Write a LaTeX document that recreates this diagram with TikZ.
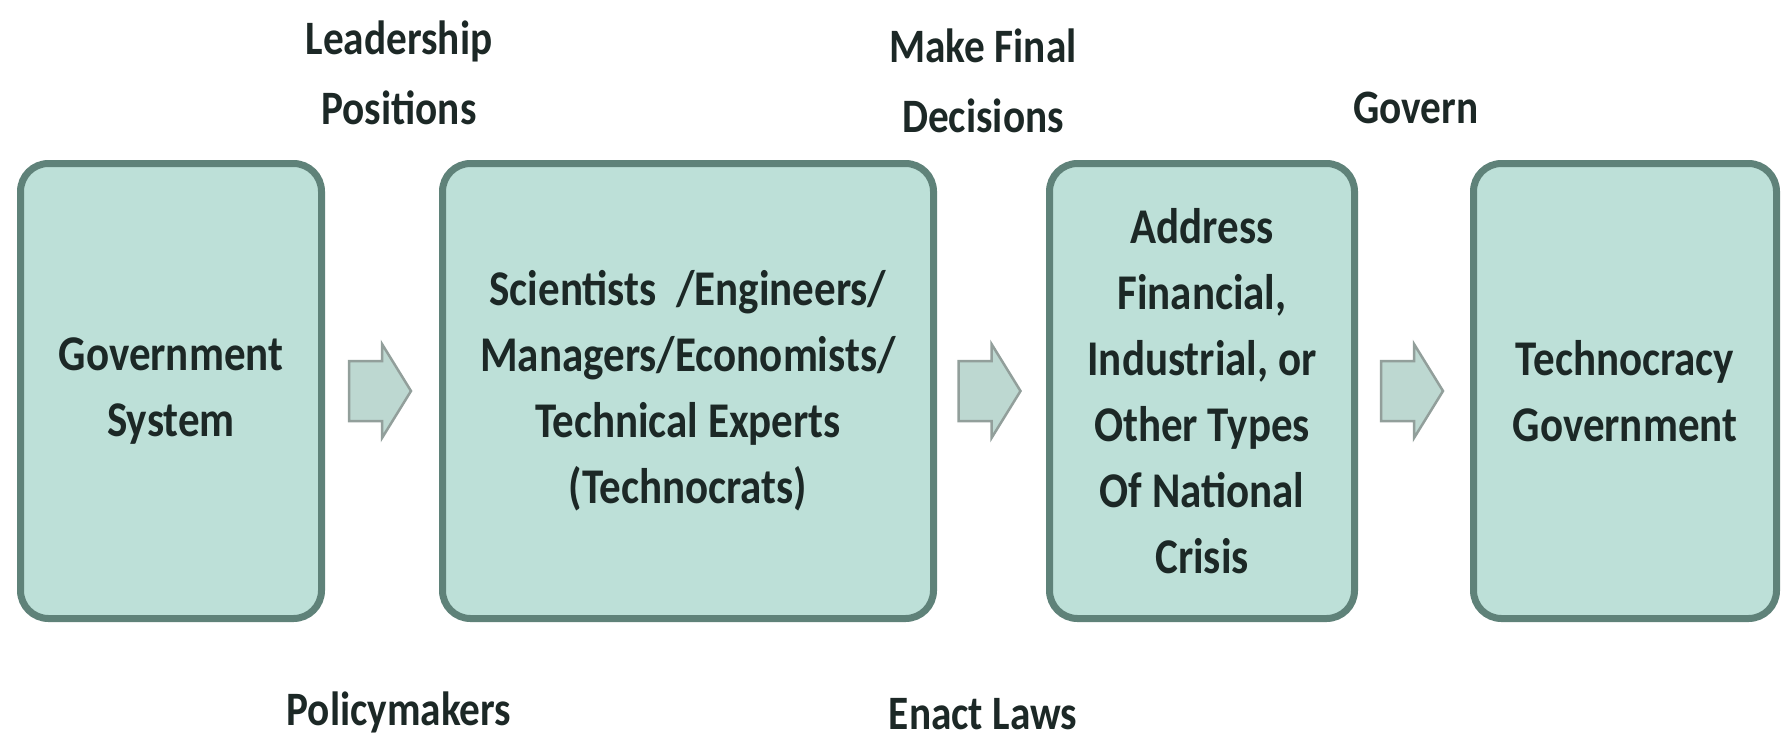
\documentclass[tikz,border=0pt]{standalone}
\usepackage{fontspec}
\usetikzlibrary{calc}
\newfontfamily\calfont[FakeStretch=0.86]{Carlito}
\definecolor{boxfill}{HTML}{BDE0D8}
\definecolor{boxline}{HTML}{5F8279}
\definecolor{arrfill}{HTML}{BDD8D1}
\definecolor{arrline}{HTML}{929F9B}
\definecolor{txt}{HTML}{1C2826}
\tikzset{
  stagebox/.style={draw=boxline, fill=boxfill, line width=7pt, rounded corners=28pt,
    minimum height=455pt, align=center, text=txt, inner sep=0pt,
    font=\calfont\bfseries\fontsize{50}{66}\selectfont},
  blockarrow/.style={draw=arrline, fill=arrfill, line width=2.5pt, line join=miter},
  sidelabel/.style={align=center, text=txt, inner sep=0pt,
    font=\calfont\bfseries\fontsize{48}{70}\selectfont}
}
\newcommand{\blockarr}[1]{%
  \draw[blockarrow] ($(#1)+(-33,-30)$) -- ($(#1)+(0,-30)$) -- ($(#1)+(0,-47)$)
    -- ($(#1)+(29,0)$) -- ($(#1)+(0,47)$) -- ($(#1)+(0,30)$) -- ($(#1)+(-33,30)$) -- cycle;}
\begin{document}
\begin{tikzpicture}[x=1pt,y=-1pt]
\useasboundingbox (0,0) rectangle (1787,737);
\node[stagebox, minimum width=301pt] (b1) at (171,391) {Government\\System};
\node[stagebox, minimum width=491pt] (b2) at (688,391) {Scientists\ \ /Engineers/\\Managers/Economists/\\Technical Experts\\(Technocrats)};
\node[stagebox, minimum width=305pt] (b3) at (1202,391) {Address\\Financial,\\Industrial, or\\Other Types\\Of National\\Crisis};
\node[stagebox, minimum width=303pt] (b4) at (1625,391) {Technocracy\\Government};
\coordinate (m1) at ($(b1.east)!0.5!(b2.west)$);
\coordinate (m2) at ($(b2.east)!0.5!(b3.west)$);
\coordinate (m3) at ($(b3.east)!0.5!(b4.west)$);
\blockarr{m1}
\blockarr{m2}
\blockarr{m3}
\node[sidelabel] (l1) at (399,73) {Leadership\\Positions};
\node[sidelabel] (l2) at (983,81) {Make Final\\Decisions};
\node[sidelabel] (l3) at (1416,108) {Govern};
\node[sidelabel] (l4) at (399,712) {Policymakers};
\node[sidelabel] (l5) at (983,714) {Enact Laws};
\end{tikzpicture}
\end{document}
